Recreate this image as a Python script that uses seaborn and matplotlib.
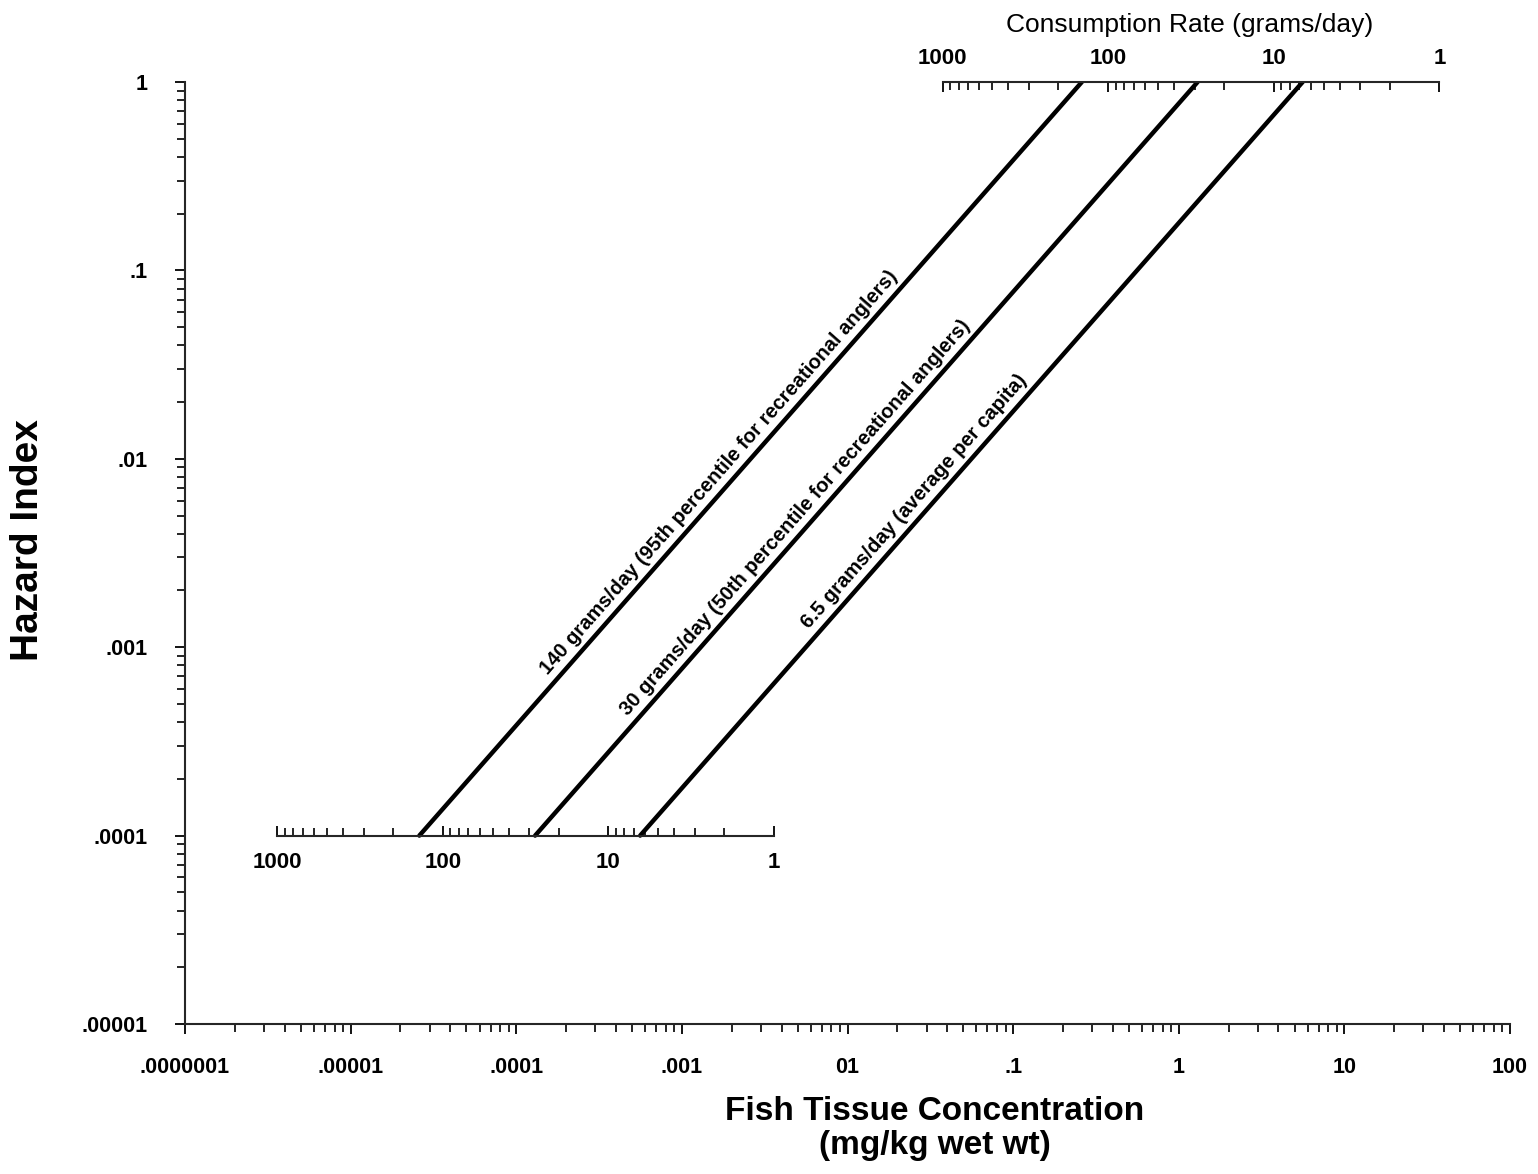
import numpy as np
import pandas as pd
import matplotlib
matplotlib.use("Agg")
import matplotlib.pyplot as plt
import matplotlib.transforms as mtransforms
from matplotlib.ticker import LogLocator, FixedLocator, FixedFormatter, NullFormatter
import seaborn as sns

# consumption rates (grams/day) and the text written along each line
rates = [140, 30, 6.5]
rate_labels = ["140 grams/day (95th percentile for recreational anglers)",
               "30 grams/day (50th percentile for recreational anglers)",
               "6.5 grams/day (average per capita)"]

# hazard index at the two ends of every line
hi_ends = [1e-4, 1.0]
# fish tissue concentration (mg/kg wet wt) read at those two ends
conc_low = [2.6e-5, 1.3e-4, 5.6e-4]
conc_high = [0.26, 1.3, 5.6]

# axis ticks (labels kept exactly as printed on the original)
x_ticks = [1e-6, 1e-5, 1e-4, 1e-3, 1e-2, 1e-1, 1, 10, 100]
x_ticklabels = [".0000001", ".00001", ".0001", ".001", "01", ".1", "1", "10", "100"]
y_ticks = [1e-5, 1e-4, 1e-3, 1e-2, 1e-1, 1]
y_ticklabels = [".00001", ".0001", ".001", ".01", ".1", "1"]
rate_ticks = [1000, 100, 10, 1]
rate_ticklabels = ["1000", "100", "10", "1"]

# where the consumption-rate scales sit on the main axes (concentration at 1000 g/day)
rate_axis_bottom = (3.6e-6, 1e-4)
rate_axis_top = (3.75e-2, 1.0)
# hazard index where each line label starts
label_start_hi = [6.6e-4, 4.0e-4, 1.15e-3]

rows = []
for rate, lab, c0, c1 in zip(rates, rate_labels, conc_low, conc_high):
    rows.append({"conc": c0, "hi": hi_ends[0], "rate": lab})
    rows.append({"conc": c1, "hi": hi_ends[1], "rate": lab})
df = pd.DataFrame(rows)

sns.set_theme(style="ticks")
plt.rcParams["font.family"] = ["Liberation Sans", "DejaVu Sans"]
plt.rcParams["axes.linewidth"] = 1.5

fig = plt.figure(figsize=(15.38, 11.74), dpi=100)
W, H = 1538, 1174
ax = fig.add_axes([185 / W, 1 - 1024 / H, 1325 / W, 942 / H])

sns.lineplot(data=df, x="conc", y="hi", hue="rate", palette=["black"] * 3,
             estimator=None, sort=False, lw=3.2, legend=False, ax=ax)

ax.set_xscale("log")
ax.set_yscale("log")
ax.set_xlim(1e-6, 100)
ax.set_ylim(1e-5, 1)
sns.despine(ax=ax)

ax.xaxis.set_major_locator(FixedLocator(x_ticks))
ax.xaxis.set_major_formatter(FixedFormatter(x_ticklabels))
ax.yaxis.set_major_locator(FixedLocator(y_ticks))
ax.yaxis.set_major_formatter(FixedFormatter(y_ticklabels))
for axis in (ax.xaxis, ax.yaxis):
    axis.set_minor_locator(LogLocator(base=10, subs=np.arange(2, 10), numticks=100))
    axis.set_minor_formatter(NullFormatter())
ax.tick_params(which="major", direction="out", length=7, width=1.3, color="black")
ax.tick_params(which="minor", direction="out", length=5.5, width=1.2, color="black")
ax.tick_params(axis="x", which="major", pad=17)
ax.tick_params(axis="y", which="major", pad=20)
for t in ax.get_xticklabels() + ax.get_yticklabels():
    t.set_fontsize(15.5)
    t.set_fontweight("bold")
    t.set_color("black")

ax.set_ylabel("Hazard Index", fontsize=28, fontweight="bold", color="black")
ax.yaxis.set_label_coords(-0.105, 0.514)
ax.set_xlabel("Fish Tissue Concentration\n(mg/kg wet wt)", fontsize=24,
              fontweight="bold", color="black", linespacing=1.15)
ax.xaxis.set_label_coords(0.566, -0.076)

# consumption-rate scales
def rate_axis(anchor, top):
    c0, h = anchor
    if top:
        bounds = [c0, h * 0.7, c0 * 1000 - c0, h - h * 0.7]
    else:
        bounds = [c0, h, c0 * 1000 - c0, h * 0.5]
    rax = ax.inset_axes(bounds, transform=ax.transData)
    rax.set_facecolor("none")
    rax.set_xscale("log")
    rax.set_xlim(1000, 1)
    rax.set_yticks([])
    for side in ("left", "right", "top", "bottom"):
        rax.spines[side].set_visible(False)
    side = "top" if top else "bottom"
    rax.spines[side].set_visible(True)
    rax.spines[side].set_linewidth(1.5)
    if top:
        rax.xaxis.tick_top()
        rax.xaxis.set_label_position("top")
    rax.xaxis.set_major_locator(FixedLocator(rate_ticks))
    rax.xaxis.set_major_formatter(FixedFormatter(rate_ticklabels))
    rax.xaxis.set_minor_locator(LogLocator(base=10, subs=np.arange(2, 10), numticks=100))
    rax.xaxis.set_minor_formatter(NullFormatter())
    rax.tick_params(which="major", direction="in", length=7, width=1.3,
                    pad=9 if top else 12, color="black")
    rax.tick_params(which="minor", direction="in", length=5.5, width=1.2, color="black")
    for t in rax.get_xticklabels():
        t.set_fontsize(16)
        t.set_fontweight("bold")
        t.set_color("black")
    return rax

rate_axis(rate_axis_bottom, top=False)
rate_axis(rate_axis_top, top=True)

fig.text(1190 / W, 1 - 25 / H, "Consumption Rate (grams/day)", ha="center",
         va="center", fontsize=19, color="black")

# labels along the lines
for lab, c0, c1, hs in zip(rate_labels, conc_low, conc_high, label_start_hi):
    p0 = ax.transData.transform((c0, hi_ends[0]))
    p1 = ax.transData.transform((c1, hi_ends[1]))
    ang = np.arctan2(p1[1] - p0[1], p1[0] - p0[0])
    off = 9
    tr = mtransforms.offset_copy(ax.transData, fig=fig, x=-np.sin(ang) * off,
                                 y=np.cos(ang) * off, units="dots")
    xc = c0 * hs / hi_ends[0]
    ax.text(xc, hs, lab, transform=tr, rotation=np.degrees(ang),
            rotation_mode="anchor", ha="left", va="baseline",
            fontsize=14.5, fontweight="bold", color="black")

fig.savefig("out.png", dpi=100, facecolor="white")
